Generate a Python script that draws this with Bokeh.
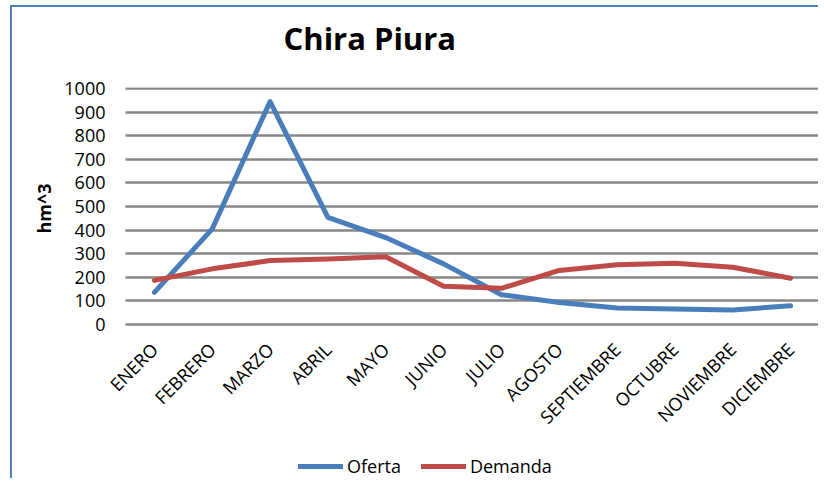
import math
from bokeh.plotting import figure
from bokeh.models import (ColumnDataSource, Range1d, FixedTicker, BoxAnnotation,
                          Legend, LegendItem, Title)
from bokeh.embed import file_html
from bokeh.resources import INLINE

categories = ["ENERO", "FEBRERO", "MARZO", "ABRIL", "MAYO", "JUNIO", "JULIO",
              "AGOSTO", "SEPTIEMBRE", "OCTUBRE", "NOVIEMBRE", "DICIEMBRE"]
oferta = [135, 405, 946, 454, 368, 256, 125, 92, 68, 64, 60, 78]
demanda = [186, 235, 270, 277, 286, 161, 152, 228, 252, 259, 242, 195]
y_ticks = [0, 100, 200, 300, 400, 500, 600, 700, 800, 900, 1000]

FONT = "Open Sans"

idx = list(range(len(categories)))
src = ColumnDataSource(dict(x=idx, cat=categories, oferta=oferta, demanda=demanda))

# frame reaches the bottom of the canvas so the legend (inside the frame) is not clipped;
# it also starts a bit left of the category band so the rotated first label fits
p = figure(width=808, height=473, x_range=Range1d(-0.846, len(categories) - 0.5),
           y_range=Range1d(-665, 1006), output_backend="svg", title=None,
           toolbar_location=None, min_border_left=93, min_border_right=1,
           min_border_top=80, min_border_bottom=0)
p.styles = {"border-left": "2px solid #4F81BD", "border-top": "2px solid #4F81BD",
            "margin-left": "10px", "margin-top": "5px"}
p.outline_line_color = None
p.background_fill_color = "white"
p.border_fill_color = "white"

# spacer (closest to frame), then the visible title
p.add_layout(Title(text=".", text_font_size="10px", text_color="white", standoff=19), "above")
p.add_layout(Title(text="Chira Piura", align="left", offset=178, standoff=0,
                   text_font=FONT, text_font_size="31px", text_font_style="bold",
                   text_color="black"), "above")

# y-axis title as a side title so it sits beside the 0-1000 area
p.add_layout(Title(text="hm^3", align="right", offset=96, standoff=12,
                   text_font=FONT, text_font_size="18px", text_font_style="bold",
                   text_color="black"), "left")

p.xgrid.grid_line_color = None
p.ygrid.ticker = FixedTicker(ticks=y_ticks)
p.ygrid.grid_line_color = "#878787"
p.ygrid.grid_line_width = 2.5
try:
    p.ygrid.cross_bounds = (-0.5, len(categories) - 0.5)
except AttributeError:
    p.add_layout(BoxAnnotation(right=-0.5, fill_color="white", fill_alpha=1,
                               line_color=None, level="underlay"))

p.yaxis.ticker = FixedTicker(ticks=y_ticks)
p.yaxis.axis_line_color = None
p.yaxis.major_tick_line_color = None
p.yaxis.minor_tick_line_color = None
p.yaxis.major_tick_out = 0
p.yaxis.major_label_standoff = 0
p.yaxis.major_label_text_font = FONT
p.yaxis.major_label_text_font_size = "18px"
p.yaxis.major_label_text_color = "black"

p.xaxis.fixed_location = 0
p.xaxis.ticker = FixedTicker(ticks=idx)
p.xaxis.major_label_overrides = {i: c for i, c in zip(idx, categories)}
p.xaxis.axis_line_color = None
p.xaxis.major_tick_line_color = None
p.xaxis.minor_tick_line_color = None
p.xaxis.major_tick_out = 0
p.xaxis.major_label_orientation = math.pi / 4
p.xaxis.major_label_standoff = 22
p.xaxis.major_label_text_font = FONT
p.xaxis.major_label_text_font_size = "18px"
p.xaxis.major_label_text_color = "black"

r1 = p.line("x", "oferta", source=src, line_color="#4A7EBB", line_width=5,
            line_cap="round", line_join="round")
r2 = p.line("x", "demanda", source=src, line_color="#BE4B48", line_width=5,
            line_cap="round", line_join="round")

legend = Legend(items=[LegendItem(label="Oferta", renderers=[r1]),
                       LegendItem(label="Demanda", renderers=[r2])],
                orientation="horizontal", location=(193, 2),
                glyph_width=45, glyph_height=24, label_height=24,
                label_standoff=4, spacing=20, padding=0, margin=0,
                border_line_alpha=0, background_fill_alpha=0,
                label_text_font=FONT, label_text_font_size="18px",
                label_text_color="black")
p.add_layout(legend, "center")

open("out.html", "w").write(file_html(p, INLINE))
